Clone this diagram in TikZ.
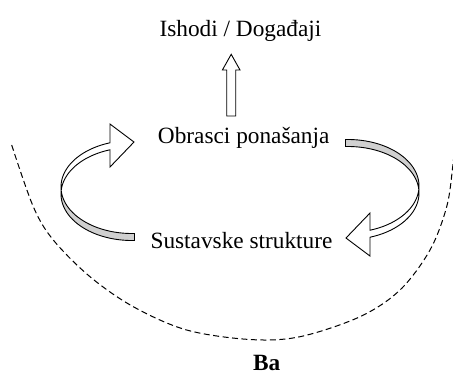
\documentclass[tikz,border=0pt]{standalone}
\usepackage{fontspec}
\setmainfont{Liberation Serif}
\definecolor{ribbon}{RGB}{208,208,208}
\begin{document}
\begin{tikzpicture}[x=1bp,y=-1bp,
  lbl/.style={font=\fontsize{23.3bp}{28bp}\selectfont, inner sep=0pt, anchor=base},
  edgeline/.style={draw=black, line width=0.9bp, line join=miter},
  dasharc/.style={draw=black, line width=1bp, dash pattern=on 6bp off 3.5bp},
  ]
\useasboundingbox (0,0) rectangle (453,372);
% texts
\node[lbl] (title) at (240.5,36.7) {Ishodi / Događaji};
\node[lbl] (obr) at (243.7,143.3) {Obrasci ponašanja};
\node[lbl] (sus) at (241.5,248.3) {Sustavske strukture};
\node[lbl, font=\fontsize{23.3bp}{28bp}\selectfont\bfseries] (ba) at (266.7,370.5) {Ba};
% up block arrow
\draw[edgeline, fill=white] (231.2,54.3) -- (240,70) -- (235.7,70) -- (235.7,116)
  -- (226.7,116) -- (226.7,70) -- (222.4,70) -- cycle;
% left ribbon arrow
\begin{scope}
\draw[edgeline, fill=ribbon]
  plot[domain=184.3:272, samples=60] ({132+71*cos(\x)},{187-46.5*sin(\x)})
  -- plot[domain=272:175.7, samples=60] ({132+71*cos(\x)},{194-46.5*sin(\x)}) -- cycle;
\draw[edgeline, fill=white]
  plot[domain=184.3:108.05, samples=60] ({132+71*cos(\x)},{187-46.5*sin(\x)})
  -- (110,124) -- (134,142) -- (110,167)
  -- plot[domain=108.05:175.7, samples=60] ({132+71*cos(\x)},{194-46.5*sin(\x)}) -- cycle;
\end{scope}
% right ribbon arrow (point symmetric)
\begin{scope}[rotate around={180:(240,190)}]
\draw[edgeline, fill=ribbon]
  plot[domain=184.3:272, samples=60] ({132+71*cos(\x)},{187-46.5*sin(\x)})
  -- plot[domain=272:175.7, samples=60] ({132+71*cos(\x)},{194-46.5*sin(\x)}) -- cycle;
\draw[edgeline, fill=white]
  plot[domain=184.3:108.05, samples=60] ({132+71*cos(\x)},{187-46.5*sin(\x)})
  -- (110,124) -- (134,142) -- (110,167)
  -- plot[domain=108.05:175.7, samples=60] ({132+71*cos(\x)},{194-46.5*sin(\x)}) -- cycle;
\end{scope}
% dashed arc
\draw[dasharc] plot[smooth, tension=0.55] coordinates {(11.7,145) (33.3,206.7) (53.3,240)
  (90,276.7) (133.3,306.7) (186.7,330) (250,339.5) (300,336.7) (360,316.7) (400,290)
  (430,250) (446.7,206.7) (452.7,166.7) (455,140)};
\end{tikzpicture}
\end{document}
